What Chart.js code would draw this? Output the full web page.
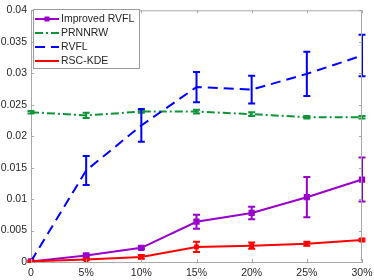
<!DOCTYPE html>
<html>
<head>
<meta charset="utf-8">
<script src="https://cdn.jsdelivr.net/npm/chart.js@4/dist/chart.umd.min.js"></script>
<style>
  html, body { margin: 0; padding: 0; background: #fff; }
  #chart { display: block; }
</style>
</head>
<body>
<canvas id="chart" width="374" height="280"></canvas>
<script>
// Noise level vs error, four methods with error bars

const xLabels = ['0', '5%', '10%', '15%', '20%', '25%', '30%'];

const improvedRvfl    = [0.0001, 0.00105, 0.00225, 0.0064, 0.0078, 0.0103, 0.0131];
const improvedRvflErr = [0.0001, 0.0002, 0.0002, 0.0011, 0.001, 0.0032, 0.0035];

const prnnrw    = [0.0238, 0.0233, 0.0239, 0.0239, 0.0235, 0.0230, 0.0230];
const prnnrwErr = [0.0002, 0.0004, 0.0002, 0.0003, 0.0003, 0.0002, 0.0002];

const rvfl    = [0.0001, 0.01455, 0.0217, 0.0278, 0.0274, 0.0299, 0.0328];
const rvflErr = [0, 0.0023, 0.0026, 0.0024, 0.0022, 0.0035, 0.0033];

const rscKde    = [0.0001, 0.0004, 0.0008, 0.0024, 0.0026, 0.0029, 0.0035];
const rscKdeErr = [0.0001, 0.0001, 0.0003, 0.0008, 0.0005, 0.0003, 0.0002];

const AXIS_COLOR = '#a8a8a8';
const TEXT_COLOR = '#262626';
const FONT = "'Liberation Sans', Arial, sans-serif";

// ─── Error bars ──────────────────────────────────────────────────────────────

const errorBars = {
  id: 'errorBars',
  afterDatasetsDraw(chart) {
    const ctx = chart.ctx;
    const yScale = chart.scales.y;
    chart.data.datasets.forEach((ds, i) => {
      if (!ds.errors) return;
      const meta = chart.getDatasetMeta(i);
      ctx.save();
      ctx.strokeStyle = ds.borderColor;
      ctx.lineWidth = 2;
      ctx.setLineDash([]);
      meta.data.forEach((pt, j) => {
        const e = ds.errors[j];
        if (!e) return;
        const top = yScale.getPixelForValue(ds.data[j] + e);
        const bot = yScale.getPixelForValue(ds.data[j] - e);
        ctx.beginPath();
        ctx.moveTo(pt.x, top); ctx.lineTo(pt.x, bot);
        ctx.moveTo(pt.x - 3.5, top); ctx.lineTo(pt.x + 3.5, top);
        ctx.moveTo(pt.x - 3.5, bot); ctx.lineTo(pt.x + 3.5, bot);
        ctx.stroke();
      });
      ctx.restore();
    });
  }
};

// ─── Box, inward ticks and legend ────────────────────────────────────────────

const frame = {
  id: 'frame',
  afterDraw(chart) {
    const ctx = chart.ctx;
    const a = chart.chartArea;
    const xs = chart.scales.x, ys = chart.scales.y;
    ctx.save();
    ctx.strokeStyle = AXIS_COLOR;
    ctx.lineWidth = 1;
    ctx.beginPath();
    ctx.moveTo(a.left + 0.5, a.top + 0.5);
    ctx.lineTo(a.right - 0.5, a.top + 0.5);
    ctx.lineTo(a.right - 0.5, a.bottom - 0.5);
    ctx.stroke();

    ctx.beginPath();
    xs.ticks.forEach((t, i) => {
      const x = Math.round(xs.getPixelForTick(i)) + 0.5;
      ctx.moveTo(x, a.bottom); ctx.lineTo(x, a.bottom - 3);
      ctx.moveTo(x, a.top); ctx.lineTo(x, a.top + 3);
    });
    ys.ticks.forEach((t, i) => {
      const y = Math.round(ys.getPixelForTick(i)) + 0.5;
      ctx.moveTo(a.left, y); ctx.lineTo(a.left + 3, y);
      ctx.moveTo(a.right, y); ctx.lineTo(a.right - 3, y);
    });
    ctx.stroke();

    // legend box
    const lx = 33, ly = 9, lw = 106, lh = 59;
    ctx.fillStyle = '#ffffff';
    ctx.fillRect(lx, ly, lw, lh);
    ctx.strokeStyle = '#9a9a9a';
    ctx.strokeRect(lx + 0.5, ly + 0.5, lw, lh);

    const rows = [19, 33, 47, 61];
    ctx.font = '10.5px ' + FONT;
    ctx.textBaseline = 'middle';
    ctx.textAlign = 'left';
    chart.data.datasets.forEach((ds, i) => {
      const yy = rows[i];
      ctx.strokeStyle = ds.borderColor;
      ctx.lineWidth = 2;
      ctx.setLineDash(ds.borderDash || []);
      ctx.beginPath();
      ctx.moveTo(35, yy); ctx.lineTo(59, yy);
      ctx.stroke();
      ctx.setLineDash([]);
      if (ds.legendMarker) {
        ctx.fillStyle = ds.borderColor;
        ctx.fillRect(44.5, yy - 2.5, 5, 5);
      }
      ctx.fillStyle = TEXT_COLOR;
      ctx.fillText(ds.label, 61, yy + 0.5);
    });
    ctx.restore();
  }
};

new Chart(document.getElementById('chart'), {
  type: 'line',
  data: {
    labels: xLabels,
    datasets: [
      {
        label: 'Improved RVFL',
        data: improvedRvfl,
        errors: improvedRvflErr,
        borderColor: '#9900cc',
        backgroundColor: '#9900cc',
        borderWidth: 2,
        pointStyle: 'rect',
        pointRadius: 3,
        legendMarker: true,
        order: 4
      },
      {
        label: 'PRNNRW',
        data: prnnrw,
        errors: prnnrwErr,
        borderColor: '#0f9438',
        backgroundColor: '#0f9438',
        borderWidth: 2,
        borderDash: [8, 3, 2, 3],
        pointRadius: 0,
        order: 3
      },
      {
        label: 'RVFL',
        data: rvfl,
        errors: rvflErr,
        borderColor: '#0000ff',
        backgroundColor: '#0000ff',
        borderWidth: 2,
        borderDash: [10, 6],
        pointRadius: 0,
        order: 2
      },
      {
        label: 'RSC-KDE',
        data: rscKde,
        errors: rscKdeErr,
        borderColor: '#ff0000',
        backgroundColor: '#ff0000',
        borderWidth: 2,
        pointStyle: 'rect',
        pointRadius: 2,
        order: 1
      }
    ]
  },
  options: {
    responsive: false,
    animation: false,
    devicePixelRatio: 1,
    layout: { padding: { top: 7, right: 12, left: 0, bottom: 0 } },
    plugins: {
      legend: { display: false },
      tooltip: { enabled: false }
    },
    scales: {
      x: {
        type: 'category',
        offset: false,
        grid: { display: false, drawTicks: false },
        border: { display: true, color: AXIS_COLOR, width: 1 },
        ticks: {
          color: TEXT_COLOR,
          font: { family: FONT, size: 10.5 },
          padding: 5,
          maxRotation: 0,
          autoSkip: false
        },
        afterFit: s => { s.height = 18; s.paddingLeft = 0; s.paddingRight = 0; }
      },
      y: {
        min: 0,
        max: 0.04,
        grid: { display: false, drawTicks: false },
        border: { display: true, color: AXIS_COLOR, width: 1 },
        ticks: {
          stepSize: 0.005,
          color: TEXT_COLOR,
          font: { family: FONT, size: 10.5 },
          padding: 4,
          callback: v => String(+v.toFixed(3))
        },
        afterFit: s => { s.width = 31; }
      }
    }
  },
  plugins: [errorBars, frame]
});
</script>
</body>
</html>
